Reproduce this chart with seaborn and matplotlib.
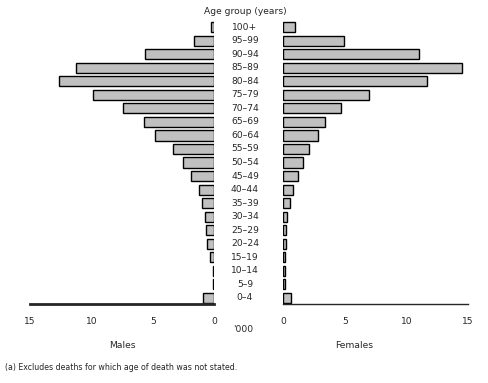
import matplotlib
matplotlib.use("Agg")
import matplotlib.pyplot as plt
import matplotlib.transforms as mtransforms
import seaborn as sns
import pandas as pd

age_groups = ["100+", "95–99", "90–94", "85–89", "80–84", "75–79", "70–74",
              "65–69", "60–64", "55–59", "50–54", "45–49", "40–44", "35–39",
              "30–34", "25–29", "20–24", "15–19", "10–14", "5–9", "0–4"]
males = [0.24, 1.63, 5.62, 11.25, 12.63, 9.86, 7.42, 5.70, 4.80, 3.34, 2.53,
         1.87, 1.22, 0.98, 0.73, 0.65, 0.57, 0.33, 0.06, 0.05, 0.90]
females = [1.00, 4.97, 11.06, 14.50, 11.66, 7.00, 4.72, 3.42, 2.85, 2.12, 1.63,
           1.25, 0.81, 0.57, 0.33, 0.24, 0.24, 0.16, 0.16, 0.16, 0.65]
x_ticks = [0, 5, 10, 15]

sns.set_style("white")
plt.rcParams["font.family"] = ["DejaVu Sans"]
FS = 6.6

df = pd.DataFrame({"age": age_groups, "Males": males, "Females": females})

fig = plt.figure(figsize=(4.88, 3.83), dpi=100)
axL = fig.add_axes([30 / 488, (383 - 304) / 383, 184 / 488, 285 / 383])
axR = fig.add_axes([283 / 488, (383 - 304) / 383, 185 / 488, 285 / 383])

for ax, col in ((axL, "Males"), (axR, "Females")):
    sns.barplot(data=df, y="age", x=col, order=age_groups, color="#c0c0c0",
                edgecolor="black", linewidth=1.0, width=0.75, saturation=1,
                orient="h", ax=ax)
    ax.set_ylim(20.45, -0.6)
    ax.set_xlim(0, 15)
    ax.set_xticks(x_ticks)
    ax.set_xticklabels([str(t) for t in x_ticks], fontsize=FS)
    ax.tick_params(axis="x", length=0, pad=9)
    ax.set_yticks([])
    ax.set_xlabel("")
    ax.set_ylabel("")
    for s in ("top", "right", "left"):
        ax.spines[s].set_visible(False)
    ax.patch.set_alpha(0)

axL.invert_xaxis()
axL.spines["bottom"].set_linewidth(2.0)
axR.spines["bottom"].set_linewidth(1.0)

trans = mtransforms.blended_transform_factory(fig.transFigure, axR.transData)
for i, lab in enumerate(age_groups):
    fig.text(245 / 488, i, lab, transform=trans, ha="center", va="center", fontsize=FS)

fig.text(245 / 488, 1 - 11 / 383, "Age group (years)", ha="center", va="center", fontsize=FS)
fig.text(243 / 488, 1 - 330 / 383, "'000", ha="center", va="center", fontsize=FS)
fig.text(122 / 488, 1 - 346 / 383, "Males", ha="center", va="center", fontsize=FS)
fig.text(354 / 488, 1 - 345 / 383, "Females", ha="center", va="center", fontsize=FS)
fig.text(5 / 488, 1 - 367 / 383, "(a) Excludes deaths for which age of death was not stated.",
         ha="left", va="center", fontsize=5.7)

fig.savefig("out.png", dpi=100)
